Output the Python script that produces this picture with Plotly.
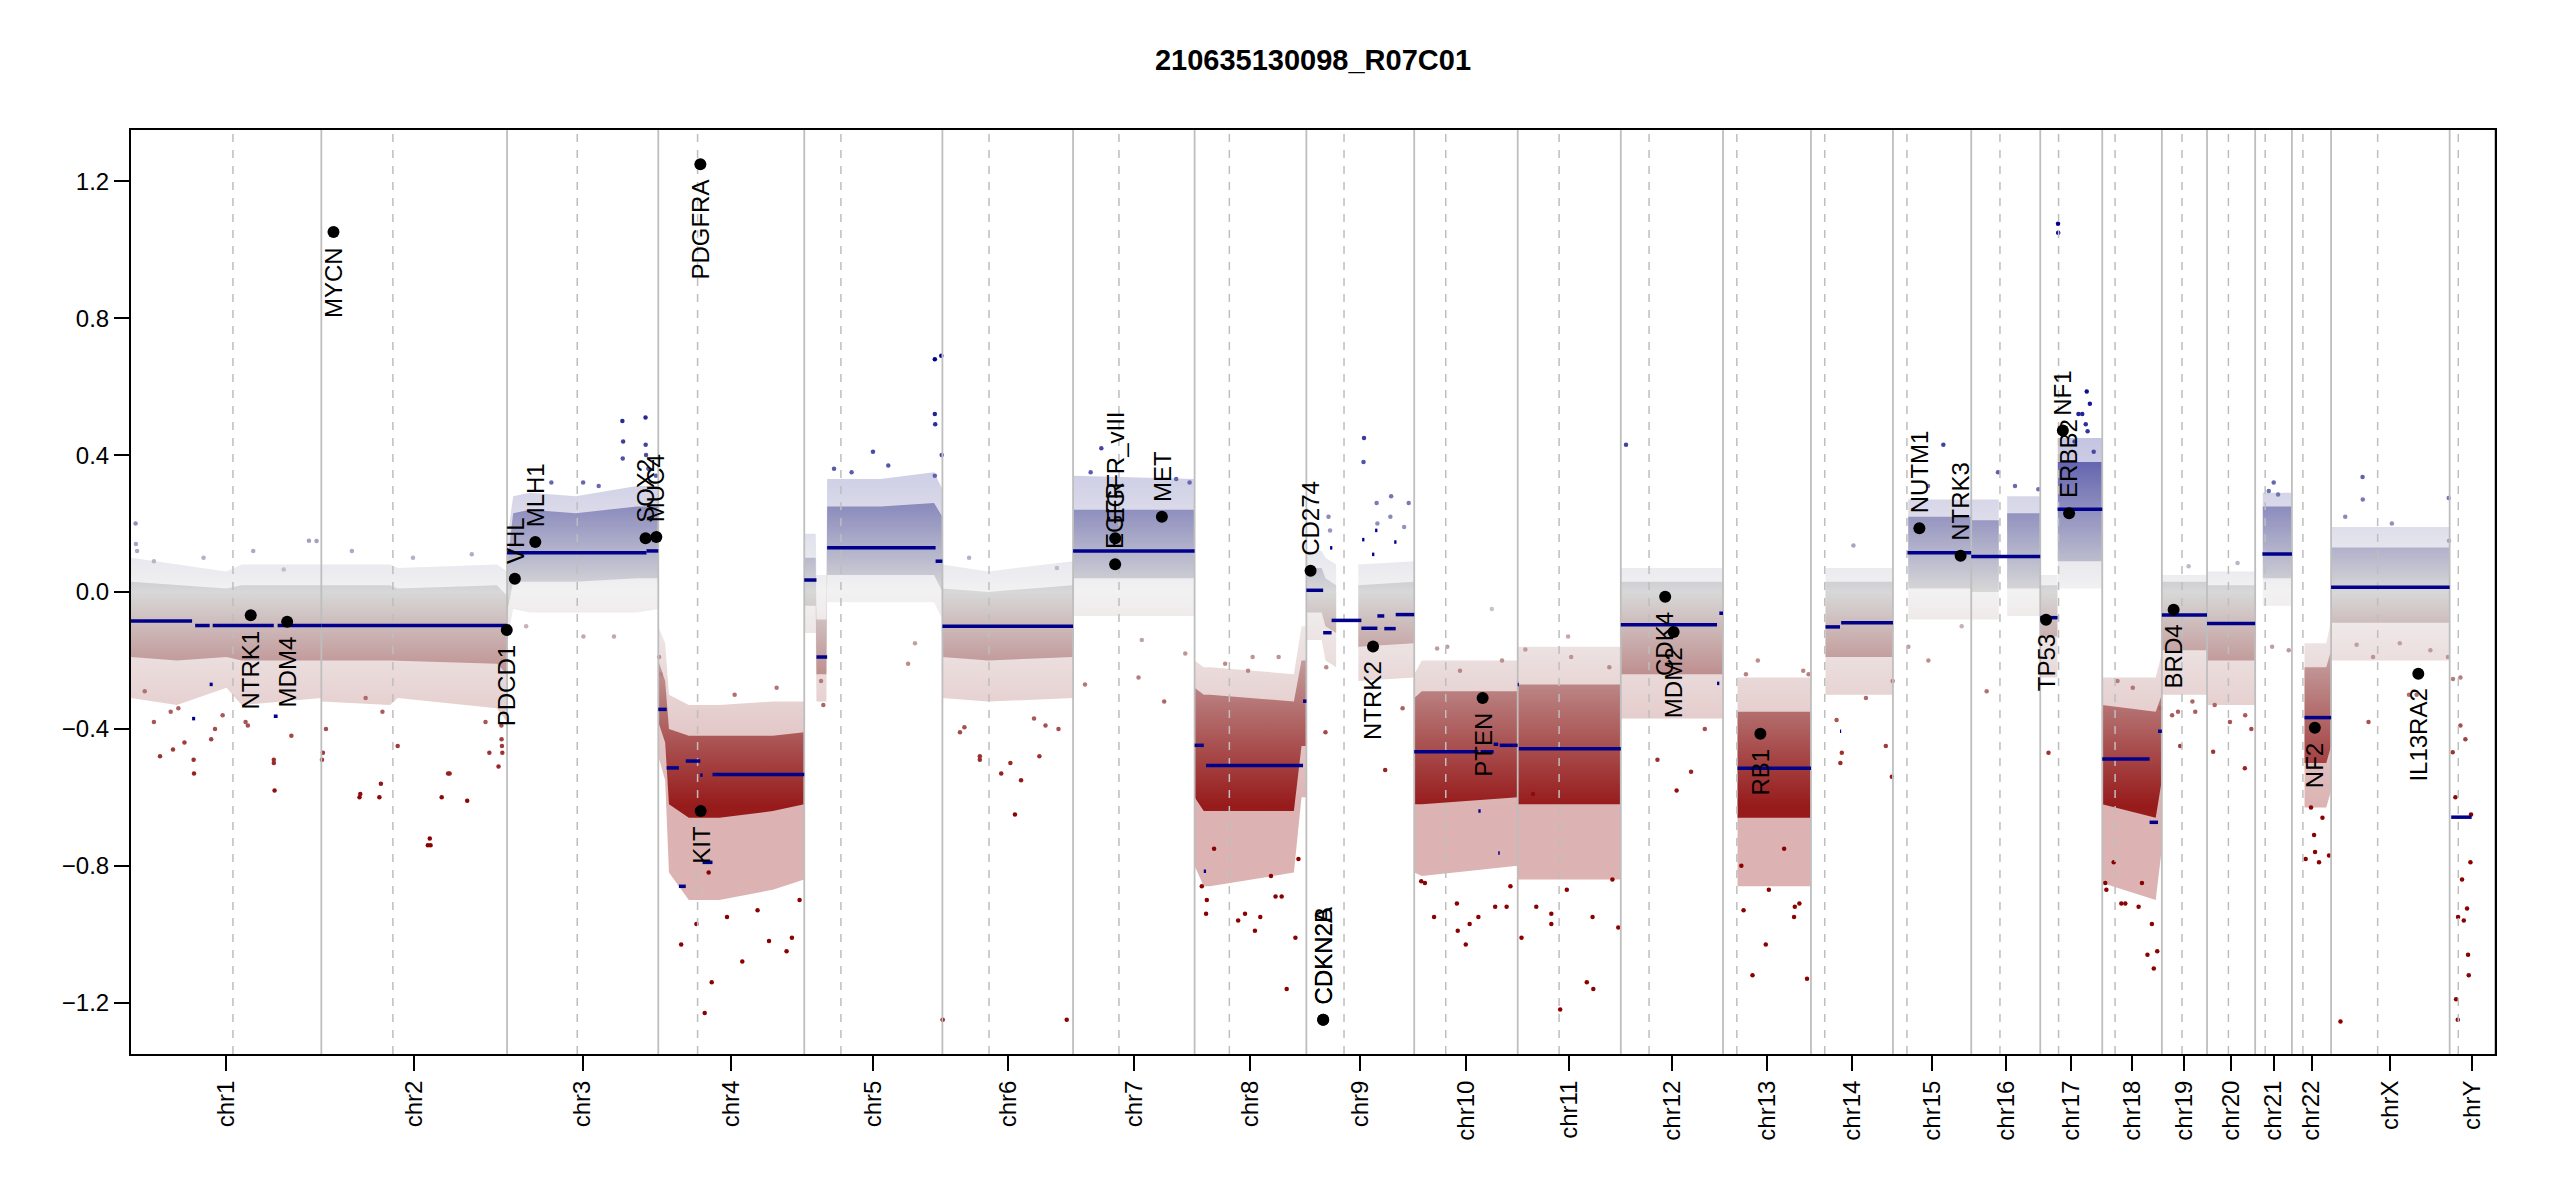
import plotly.graph_objects as go

# genome layout (hg19, Mb) -- chromosome sizes and the dashed centromere marks
CHROMS = ["chr1", "chr2", "chr3", "chr4", "chr5", "chr6", "chr7", "chr8", "chr9", "chr10",
          "chr11", "chr12", "chr13", "chr14", "chr15", "chr16", "chr17", "chr18", "chr19",
          "chr20", "chr21", "chr22", "chrX", "chrY"]
CHR_SIZE = [249.25, 243.20, 198.02, 191.15, 180.92, 171.12, 159.14, 146.36, 141.21, 135.53,
            135.01, 133.85, 115.17, 107.35, 102.53, 90.35, 81.20, 78.08, 59.13,
            63.03, 48.13, 51.30, 155.27, 59.37]
CHR_CEN = [133.5, 93.7, 91.9, 51.5, 48.0, 61.0, 60.1, 45.5, 49.3, 41.3,
           54.2, 37.0, 18.1, 18.0, 18.3, 37.6, 24.0, 16.8, 26.3,
           28.0, 13.1, 14.4, 61.0, 11.3]

# bin cloud envelopes (outer = visible spread, inner = dense core)
BAND_CHR = (["chr1"] * 5 + ["chr2"] * 5 + ["chr3"] * 6 + ["chr4"] * 7 + ["chr5"] * 8 +
            ["chr6"] * 3 + ["chr7"] * 2 + ["chr8"] * 6 + ["chr9"] * 4 + ["chr9"] * 2 +
            ["chr10"] * 3 + ["chr11"] * 2 + ["chr12"] * 2 + ["chr13"] * 2 + ["chr14"] * 2 +
            ["chr15"] * 2 + ["chr16"] * 2 + ["chr16"] * 2 + ["chr17"] * 2 + ["chr17"] * 2 +
            ["chr18"] * 3 + ["chr19"] * 2 + ["chr20"] * 2 + ["chr21"] * 2 + ["chr22"] * 3 +
            ["chrX"] * 2)
BAND_PART = ([0] * 5 + [0] * 5 + [0] * 6 + [0] * 7 + [0] * 8 + [0] * 3 + [0] * 2 + [0] * 6 +
             [0] * 4 + [1] * 2 + [0] * 3 + [0] * 2 + [0] * 2 + [0] * 2 + [0] * 2 + [0] * 2 +
             [0] * 2 + [1] * 2 + [0] * 2 + [1] * 2 + [0] * 3 + [0] * 2 + [0] * 2 + [0] * 2 +
             [0] * 3 + [0] * 2)
BAND_POS = [0, 60, 125, 145, 249.2,
            0, 90, 100, 230, 243.2,
            0, 8, 30, 90, 170, 198,
            0, 9, 14, 40, 80, 150, 191.1,
            0, 15, 16, 29, 30, 100, 170, 180.9,
            0, 60, 171.1,
            0, 159.1,
            0, 12, 20, 130, 140, 146.3,
            0, 20, 25, 39,
            68, 141.2,
            0, 10, 135.5,
            0, 135,
            0, 133.8,
            19, 115.1,
            19, 107.3,
            20, 102.5,
            0, 36,
            47, 90.3,
            0, 22.5,
            23, 81.1,
            0, 70, 78,
            0, 59.1,
            0, 63,
            10, 48.1,
            16.5, 45, 51.3,
            0, 155.2]
BAND_OHI = [0.10, 0.08, 0.06, 0.08, 0.08,
            0.08, 0.08, 0.07, 0.08, 0.06,
            0.15, 0.28, 0.29, 0.28, 0.31, 0.31,
            -0.10, -0.15, -0.30, -0.33, -0.33, -0.32, -0.32,
            0.17, 0.17, 0.05, 0.05, 0.33, 0.33, 0.35, 0.30,
            0.08, 0.06, 0.09,
            0.34, 0.33,
            -0.20, -0.22, -0.22, -0.24, -0.10, -0.10,
            0.12, 0.12, 0.10, 0.08,
            0.08, 0.09,
            -0.24, -0.20, -0.20,
            -0.16, -0.16,
            0.07, 0.07,
            -0.25, -0.25,
            0.07, 0.07,
            0.27, 0.27,
            0.27, 0.27,
            0.28, 0.28,
            0.05, 0.05,
            0.45, 0.45,
            -0.25, -0.25, -0.18,
            0.05, 0.05,
            0.06, 0.06,
            0.29, 0.29,
            -0.15, -0.15, -0.08,
            0.19, 0.19]
BAND_IHI = [0.03, 0.02, 0.01, 0.02, 0.02,
            0.02, 0.02, 0.01, 0.02, -0.01,
            0.08, 0.23, 0.24, 0.23, 0.25, 0.25,
            -0.20, -0.26, -0.40, -0.42, -0.42, -0.42, -0.41,
            0.10, 0.10, -0.08, -0.08, 0.25, 0.25, 0.26, 0.22,
            0.01, 0.00, 0.02,
            0.24, 0.24,
            -0.28, -0.30, -0.30, -0.32, -0.20, -0.20,
            0.07, 0.07, 0.04, 0.02,
            0.02, 0.03,
            -0.31, -0.29, -0.29,
            -0.27, -0.27,
            0.03, 0.03,
            -0.35, -0.35,
            0.03, 0.03,
            0.22, 0.22,
            0.21, 0.21,
            0.23, 0.23,
            0.02, 0.02,
            0.38, 0.38,
            -0.33, -0.35, -0.30,
            0.03, 0.03,
            0.02, 0.02,
            0.25, 0.25,
            -0.22, -0.22, -0.17,
            0.13, 0.13]
BAND_ILO = [-0.19, -0.20, -0.19, -0.20, -0.20,
            -0.20, -0.20, -0.20, -0.21, -0.24,
            -0.06, 0.03, 0.03, 0.03, 0.04, 0.04,
            -0.38, -0.44, -0.62, -0.66, -0.66, -0.64, -0.62,
            -0.04, -0.04, -0.24, -0.24, 0.05, 0.05, 0.05, 0.00,
            -0.19, -0.20, -0.19,
            0.04, 0.04,
            -0.60, -0.64, -0.64, -0.64, -0.45, -0.45,
            -0.06, -0.06, -0.10, -0.12,
            -0.16, -0.15,
            -0.62, -0.62, -0.60,
            -0.62, -0.62,
            -0.24, -0.24,
            -0.66, -0.66,
            -0.19, -0.19,
            0.01, 0.01,
            0.00, 0.00,
            0.01, 0.01,
            -0.13, -0.13,
            0.09, 0.09,
            -0.62, -0.66, -0.55,
            -0.17, -0.17,
            -0.20, -0.20,
            0.04, 0.04,
            -0.50, -0.50, -0.45,
            -0.09, -0.09]
BAND_OLO = [-0.31, -0.33, -0.28, -0.33, -0.31,
            -0.32, -0.33, -0.31, -0.34, -0.38,
            -0.14, -0.05, -0.06, -0.06, -0.06, -0.05,
            -0.48, -0.55, -0.82, -0.90, -0.90, -0.87, -0.84,
            -0.12, -0.12, -0.32, -0.32, -0.03, -0.03, -0.03, -0.08,
            -0.31, -0.32, -0.31,
            -0.07, -0.07,
            -0.80, -0.86, -0.86, -0.82, -0.60, -0.60,
            -0.14, -0.14, -0.20, -0.22,
            -0.26, -0.25,
            -0.82, -0.83, -0.80,
            -0.84, -0.84,
            -0.37, -0.37,
            -0.86, -0.86,
            -0.30, -0.30,
            -0.08, -0.08,
            -0.08, -0.08,
            -0.07, -0.07,
            -0.25, -0.25,
            0.01, 0.01,
            -0.85, -0.90, -0.75,
            -0.30, -0.30,
            -0.33, -0.33,
            -0.04, -0.04,
            -0.63, -0.63, -0.58,
            -0.20, -0.20]

# scattered bins outside the dense cloud
OUT_CHR = (["chr1"] * 20 + ["chr2"] * 21 + ["chr3"] * 14 + ["chr4"] * 16 + ["chr5"] * 14 +
           ["chr6"] * 11 + ["chr7"] * 9 + ["chr8"] * 8 + ["chr9"] * 14 + ["chr10"] * 7 +
           ["chr11"] * 8 + ["chr12"] * 5 + ["chr13"] * 6 + ["chr14"] * 5 + ["chr15"] * 5 +
           ["chr16"] * 4 + ["chr17"] * 6 + ["chr18"] * 7 + ["chr19"] * 4 + ["chr20"] * 4 +
           ["chr21"] * 5 + ["chr22"] * 5 + ["chrX"] * 10 + ["chrY"] * 16)
OUT_POS = [6, 6.5, 8, 18, 38, 52, 55, 70, 82, 82.5, 105, 153, 187, 188, 233, 120, 30, 95, 160, 210,
           6, 2, 51, 58, 78, 80, 142, 143, 157.6, 168, 191, 220, 235.7, 236, 236.5, 237, 197, 120, 40, 100, 215,
           151, 181.3, 151.5, 152, 181.5, 182, 99.6, 120, 58, 185, 140, 100, 25, 195,
           168, 175, 145, 110, 70, 60.8, 30, 66, 1, 3, 90, 130, 50, 185, 155, 100,
           39, 62, 90, 171, 179.5, 171, 171.5, 171, 145, 136, 22, 25, 180, 110,
           49, 95, 77, 103, 127, 0.3, 162.8, 150, 35, 23, 135,
           15.6, 85.7, 119.3, 146.9, 90, 23, 152.6, 135, 37,
           76, 79, 57, 15, 120.6, 114, 132, 100,
           103.2, 126, 74.8, 75.5, 92, 93, 110, 111, 128, 29, 31, 26, 25, 134,
           67.5, 57, 84, 43.3, 101.6, 14, 121,
           55.6, 90.5, 99, 5, 20, 66, 131.7, 44,
           73.1, 92, 6.8, 48, 110,
           38.6, 56, 110, 45.6, 112, 94,
           40.4, 105.9, 107, 55.6, 38.5,
           46.4, 20.2, 66, 46, 90,
           20.2, 57.3, 87.9, 35,
           10.8, 60.9, 23.3, 23.5, 50, 65,
           59.2, 72, 67.5, 30.2, 3.9, 47.6, 76,
           43.7, 24, 13.4, 35,
           8, 49.5, 58, 40,
           22.2, 44, 17.8, 24.3, 30,
           35.5, 48.6, 18, 29, 25,
           41.2, 41.5, 154, 154.5, 18.5, 79.6, 49, 12.3, 153, 112,
           4.0, 7.5, 14.1, 16.2, 20.6, 22.8, 24.1, 25, 11, 8.4, 10.6, 27.2, 4.4, 14.1, 18.5, 28]
OUT_VAL = [0.20, 0.14, 0.12, -0.29, -0.48, -0.35, -0.46, -0.44, -0.49, -0.53, -0.43, -0.39, -0.49, -0.58, 0.15, -0.36, -0.38, 0.10, 0.12, -0.42,
           -0.40, -0.47, -0.59, -0.31, -0.56, -0.35, -0.72, -0.74, -0.60, -0.53, -0.61, -0.47, -0.39, -0.43, -0.45, -0.47, 0.11, 0.10, 0.12, -0.45, -0.38,
           0.50, 0.51, 0.39, 0.44, 0.43, 0.40, 0.32, 0.31, 0.32, 0.36, -0.13, -0.13, -0.10, 0.34,
           -1.05, -1.01, -1.02, -1.08, -1.14, -1.23, -1.03, -0.82, -0.19, -0.24, -0.95, -0.93, -0.97, -0.90, -0.28, -0.30,
           0.36, 0.35, 0.41, 0.68, 0.69, 0.52, 0.49, 0.34, -0.15, -0.21, -0.26, -0.33, 0.40, 0.37,
           -0.49, -0.65, -0.53, -0.55, -0.48, -1.25, -1.25, 0.07, 0.10, -0.41, -0.39,
           -0.27, -0.25, -0.32, -0.18, -0.14, 0.35, 0.32, 0.33, 0.42,
           -0.19, -0.99, -0.96, -0.94, -1.16, -0.89, -1.01, -0.83,
           -0.52, -0.34, 0.38, 0.45, 0.26, 0.20, 0.22, 0.28, 0.19, 0.22, 0.18, -0.22, -0.41, 0.26,
           -1.03, -0.99, -0.95, -0.16, -0.05, -0.85, -0.92,
           -1.22, -1.14, -1.16, -1.01, -0.59, -0.13, -0.98, -0.94,
           -0.58, -0.525, 0.43, -0.49, -0.40,
           -1.12, -1.03, -1.13, -0.20, -0.24, -0.92,
           -0.47, -0.54, -0.26, 0.136, -0.50,
           -0.20, -0.16, 0.43, 0.31, -0.10,
           -0.29, 0.31, 0.30, 0.35,
           -0.47, 0.586, 1.076, 1.05, 0.52, 0.55,
           -1.06, -1.05, -1.10, -0.91, -0.85, -0.92, -0.34,
           -0.35, -0.45, -0.36, 0.075,
           -0.467, -0.515, -0.40, 0.085,
           -0.16, -0.17, 0.295, 0.32, 0.285,
           -0.79, -0.77, -0.78, -0.71, -0.63,
           0.336, 0.27, 0.275, 0.15, 0.22, 0.20, -0.38, -1.255, -0.19, -0.30,
           -0.468, -0.60, -0.39, -0.84, -0.43, -0.925, -1.06, -1.12, -0.95, -1.19, -1.25, -0.79, -0.254, -0.25, -0.96, -0.65]

# bins in the thin fringe around each cloud
FRINGE_CHR = (["chr1"] * 7 + ["chr2"] * 6 + ["chr6"] * 5 + ["chr8"] * 10 + ["chr10"] * 9 +
              ["chr11"] * 8 + ["chr13"] * 8 + ["chr14"] * 3 + ["chr17"] * 5 + ["chr18"] * 7 +
              ["chr19"] * 2 + ["chr20"] * 3 + ["chr22"] * 2 + ["chrX"] * 5)
FRINGE_POS = [150, 187, 62, 243, 30, 200, 110,
              0.8, 50, 76, 139.5, 166, 232,
              28.8, 89, 49, 152, 120,
              9.4, 66, 106, 25.5, 86, 136, 16, 40, 70, 110,
              9.2, 55.9, 72.6, 106, 26, 126, 30, 60, 115,
              24.3, 64.3, 98, 124, 44, 10, 70, 120,
              26.9, 60, 93, 80, 24, 100, 30, 105,
              33.5, 72, 98,
              59.6, 62, 55, 45, 70,
              5.4, 25, 52, 65, 15, 20, 40,
              21.1, 40,
              10, 30, 50,
              30.3, 40,
              33.4, 55, 90, 130, 102]
FRINGE_VAL = [-0.38, -0.50, -0.34, 0.149, 0.09, 0.066, -0.40,
              -0.49, -0.60, -0.60, -0.74, -0.53, -0.51,
              -0.395, -0.50, -0.48, -0.40, -0.37,
              -0.86, -0.94, -0.89, -0.75, -0.95, -0.78, -0.90, -0.21, -0.23, -0.19,
              -0.845, -0.91, -0.97, -0.92, -0.95, -0.86, -0.165, -0.23, -0.20,
              -0.92, -0.87, -0.95, -0.84, -0.97, -0.168, -0.19, -0.22,
              -0.93, -0.87, -0.95, -0.75, -0.80, -0.91, -0.24, -0.23,
              -0.374, -0.31, -0.45,
              0.49, 0.47, 0.52, 0.44, 0.41,
              -0.87, -0.91, -0.85, -0.97, -0.79, -0.26, -0.28,
              -0.35, -0.32,
              -0.33, -0.38, -0.36,
              -0.76, -0.66,
              -0.154, -0.19, -0.15, -0.17, -0.30]

# segments (chromosome, start Mb, end Mb, mean)
SEG_CHR = (["chr1"] * 7 + ["chr2"] + ["chr3"] * 2 + ["chr4"] * 7 + ["chr5"] * 4 + ["chr6"] +
           ["chr7"] + ["chr8"] * 4 + ["chr9"] * 12 + ["chr10"] * 6 + ["chr11"] * 2 +
           ["chr12"] * 3 + ["chr13"] + ["chr14"] * 3 + ["chr15"] + ["chr16"] + ["chr17"] * 2 +
           ["chr18"] * 3 + ["chr19"] + ["chr20"] + ["chr21"] + ["chr22"] + ["chrX"] + ["chrY"])
SEG_START = [0, 80, 84, 103, 107, 187, 192, 0, 0, 182.6, 0, 11, 27, 36, 55, 58, 71,
             0, 16, 30, 172, 0, 0, 0, 12, 15, 142,
             0, 22, 33, 72, 93, 102, 117, 73, 86, 90, 115, 31,
             0, 84, 87, 104, 110, 112, 0, 1.5, 0, 126, 129, 19, 19, 38, 39.5, 19, 0,
             0, 22.7, 0, 62, 73, 0, 0, 9.5, 16.5, 0, 2]
SEG_END = [80, 84, 103, 107, 187, 192, 249.25, 243.2, 182.6, 198, 11, 27, 36, 55, 58, 71, 191.15,
           16, 30, 172, 180.9, 171.1, 159.1, 12, 15, 142, 146.36,
           22, 33, 72, 93, 102, 117, 141.2, 76, 89, 93, 118, 34,
           84, 87, 104, 110, 112, 135.5, 1.5, 135, 126, 129, 133.85, 115.17, 38, 39.5, 107.35, 102.53, 90.35,
           22.7, 81.2, 62, 73, 78.08, 59.13, 63.03, 48.13, 51.3, 155.27, 28.8]
SEG_MEAN = [-0.085, -0.37, -0.098, -0.27, -0.098, -0.363, -0.098, -0.098, 0.115, 0.12,
            -0.343, -0.514, -0.86, -0.494, -0.535, -0.79, -0.533,
            0.035, -0.19, 0.129, 0.09, -0.10, 0.12, -0.448, -0.816, -0.507, -0.319,
            0.005, -0.119, -0.083, -0.106, -0.07, -0.107, -0.066, 0.153, 0.11, 0.18, 0.146, 0.129,
            -0.467, -0.64, -0.467, -0.445, -0.763, -0.448, -0.27, -0.458, -0.096, -0.267, -0.062,
            -0.515, -0.102, -0.407, -0.09, 0.115, 0.104, -0.075, 0.242, -0.488, -0.673, -0.407,
            -0.067, -0.092, 0.111, -0.367, 0.014, -0.658]

# highlighted genes
GENE_NAME = ["NTRK1", "MDM4", "MYCN", "PDCD1", "VHL", "MLH1", "SOX2", "MUC4", "PDGFRA", "KIT",
             "EGFR", "EGFR_vIII", "MET", "CD274", "CDKN2A", "CDKN2B", "NTRK2", "PTEN", "CDK4",
             "MDM2", "RB1", "NUTM1", "NTRK3", "TP53", "NF1", "ERBB2", "BRD4", "NF2", "IL13RA2"]
GENE_CHR = ["chr1", "chr1", "chr2", "chr2", "chr3", "chr3", "chr3", "chr3", "chr4", "chr4",
            "chr7", "chr7", "chr7", "chr9", "chr9", "chr9", "chr9", "chr10", "chr12",
            "chr12", "chr13", "chr15", "chr15", "chr17", "chr17", "chr17", "chr19", "chr22", "chrX"]
GENE_POS = [156.8, 204.5, 15.9, 242.8, 10.2, 37.0, 181.4, 195.5, 55.1, 55.5,
            55.1, 55.2, 116.3, 5.5, 21.97, 22.0, 87.3, 89.6, 58.1,
            69.2, 48.9, 34.6, 88.6, 7.6, 29.6, 37.8, 15.4, 30.0, 114.2]
GENE_VAL = [-0.068, -0.087, 1.052, -0.111, 0.039, 0.146, 0.157, 0.161, 1.25, -0.64,
            0.081, 0.157, 0.22, 0.062, -1.25, -1.25, -0.159, -0.31, -0.014,
            -0.117, -0.414, 0.186, 0.106, -0.081, 0.472, 0.23, -0.052, -0.397, -0.239]

Y_TICKS = [-1.2, -0.8, -0.4, 0.0, 0.4, 0.8, 1.2]
Y_LIM = 1.35

FONT = "Liberation Sans, Arial, Helvetica, sans-serif"
COLS = [[0.0, "#8B0000"], [0.25, "#8B0000"], [0.5, "#D3D3D3"], [0.75, "#00008B"], [1.0, "#00008B"]]

start = {}
acc = 0.0
for c, s in zip(CHROMS, CHR_SIZE):
    start[c] = acc
    acc += s
total = acc

fig = go.Figure()

# bin cloud as gradient-filled bands (faint outer spread, dense core)
groups = {}
for i, c in enumerate(BAND_CHR):
    groups.setdefault((c, BAND_PART[i]), []).append(i)
for (c, part), idx in groups.items():
    xs = [start[c] + BAND_POS[i] for i in idx]
    for lo, hi, op in [(BAND_OLO, BAND_OHI, 0.3), (BAND_ILO, BAND_IHI, 0.85)]:
        fig.add_trace(go.Scatter(
            x=xs + xs[::-1],
            y=[hi[i] for i in idx] + [lo[i] for i in idx][::-1],
            mode="lines", fill="toself", line=dict(width=0),
            fillgradient=dict(type="vertical", colorscale=COLS, start=-1.25, stop=1.25),
            opacity=op, hoverinfo="skip", showlegend=False))

fig.add_trace(go.Scatter(
    x=[start[c] + p for c, p in zip(FRINGE_CHR, FRINGE_POS)], y=FRINGE_VAL, mode="markers",
    marker=dict(size=4.5, color=FRINGE_VAL, colorscale=COLS, cmin=-1.25, cmax=1.25),
    hoverinfo="skip", showlegend=False))
fig.add_trace(go.Scatter(
    x=[start[c] + p for c, p in zip(OUT_CHR, OUT_POS)], y=OUT_VAL, mode="markers",
    marker=dict(size=4.5, color=OUT_VAL, colorscale=COLS, cmin=-1.25, cmax=1.25),
    hoverinfo="skip", showlegend=False))

# chromosome borders and centromeres
bx, by, cx, cy = [], [], [], []
for c, s, cen in zip(CHROMS, CHR_SIZE, CHR_CEN):
    bx += [start[c] + s, start[c] + s, None]
    by += [-Y_LIM, Y_LIM, None]
    cx += [start[c] + cen, start[c] + cen, None]
    cy += [-Y_LIM, Y_LIM, None]
fig.add_trace(go.Scatter(x=bx, y=by, mode="lines", line=dict(color="#BEBEBE", width=1.8),
                         hoverinfo="skip", showlegend=False))
fig.add_trace(go.Scatter(x=cx, y=cy, mode="lines",
                         line=dict(color="#BEBEBE", width=1.5, dash="8px,8px"),
                         hoverinfo="skip", showlegend=False))

# segments
sx, sy = [], []
for c, a, b, m in zip(SEG_CHR, SEG_START, SEG_END, SEG_MEAN):
    sx += [start[c] + a, start[c] + b, None]
    sy += [m, m, None]
fig.add_trace(go.Scatter(x=sx, y=sy, mode="lines", line=dict(color="#00008B", width=3.5),
                         hoverinfo="skip", showlegend=False))

# genes
gx = [start[c] + p for c, p in zip(GENE_CHR, GENE_POS)]
fig.add_trace(go.Scatter(x=gx, y=GENE_VAL, mode="markers",
                         marker=dict(color="black", size=12), text=GENE_NAME,
                         hoverinfo="text", showlegend=False))
for name, x, v in zip(GENE_NAME, gx, GENE_VAL):
    above = (0 < v < Y_LIM / 2) or (v < -Y_LIM / 2)
    fig.add_annotation(x=x, y=v, text=name, showarrow=False, textangle=-90,
                       xanchor="center", yanchor="bottom" if above else "top",
                       yshift=13 if above else -13,
                       font=dict(family=FONT, size=24, color="black"))

centers = [start[c] + s / 2 for c, s in zip(CHROMS, CHR_SIZE)]
fig.update_layout(
    width=2550, height=1200,
    margin=dict(l=123, r=63, t=122, b=154),
    paper_bgcolor="white", plot_bgcolor="white",
    font=dict(family=FONT, size=24, color="black"),
    title=dict(text="<b>210635130098_R07C01</b>", x=0.5, xref="paper",
               y=1 - 52 / 1200, yref="container", yanchor="middle",
               font=dict(family=FONT, size=29, color="black")),
    xaxis=dict(range=[0, total], tickmode="array", tickvals=centers, ticktext=CHROMS,
               tickangle=-90, ticks="outside", ticklen=15, tickwidth=2, tickcolor="black",
               showline=True, mirror=True, linecolor="black", linewidth=2,
               showgrid=False, zeroline=False, tickfont=dict(size=24)),
    yaxis=dict(range=[-Y_LIM, Y_LIM], tickmode="array", tickvals=Y_TICKS,
               ticktext=[f"{t:.1f}".replace("-", "\u2212") for t in Y_TICKS],
               ticks="outside", ticklen=15, tickwidth=2, tickcolor="black",
               showline=True, mirror=True, linecolor="black", linewidth=2,
               showgrid=False, zeroline=False, tickfont=dict(size=24)),
)

fig.write_html("out.html")
